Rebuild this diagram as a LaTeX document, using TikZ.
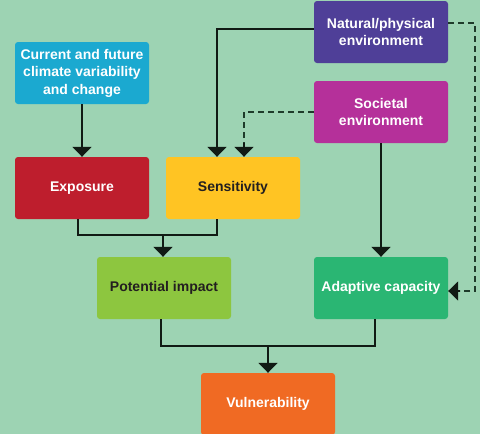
\documentclass[tikz,border=0pt]{standalone}
\usepackage{fontspec}
\setmainfont{Liberation Sans}
\usetikzlibrary{arrows.meta}
\definecolor{bg}{HTML}{9DD3B3}
\definecolor{ccyan}{HTML}{1BA9D0}
\definecolor{cred}{HTML}{BE1E2D}
\definecolor{cyellow}{HTML}{FFC423}
\definecolor{cpurple}{HTML}{4F3F98}
\definecolor{cmagenta}{HTML}{B5309A}
\definecolor{clime}{HTML}{8DC63F}
\definecolor{cgreen}{HTML}{2AB673}
\definecolor{corange}{HTML}{F06A23}
\definecolor{ctext}{HTML}{231F20}
\definecolor{cline}{HTML}{111A14}
\definecolor{cdash}{HTML}{1E3A2A}
\tikzset{
  box/.style={rectangle, rounded corners=3pt, minimum width=134pt, minimum height=62pt,
    inner sep=0pt, align=center, text=white,
    font=\fontsize{14}{17.5}\selectfont\bfseries},
  darktext/.style={text=ctext},
  conn/.style={draw=cline, line width=1.7pt},
  arr/.style={conn, -{Triangle[width=19pt,length=10pt]}},
  dconn/.style={draw=cdash, line width=1.7pt, dash pattern=on 6pt off 4pt},
}
\begin{document}
\begin{tikzpicture}[x=1pt,y=-1pt]
\useasboundingbox (0,0) rectangle (480,434);
\fill[bg] (0,0) rectangle (480,434);
\begin{scope}
\clip (0,0) rectangle (480,434);
\node[box, fill=ccyan] (clim) at (82,73) {Current and future\\climate variability\\and change};
\node[box, fill=cred] (expo) at (82,188) {Exposure};
\node[box, fill=cyellow, darktext] (sens) at (233,188) {Sensitivity};
\node[box, fill=cpurple] (nat) at (381,32) {Natural/physical\\environment};
\node[box, fill=cmagenta] (soc) at (381,112) {Societal\\environment};
\node[box, fill=clime, darktext] (pot) at (164,288) {Potential impact};
\node[box, fill=cgreen] (adap) at (381,288) {Adaptive capacity};
\node[box, fill=corange] (vul) at (268,404) {Vulnerability};
\end{scope}
\coordinate (j1) at (163,235);
\coordinate (j2) at (268,346);
% connectors
\draw[arr] (clim) -- (expo);
\draw[arr] ([yshift=3pt]nat.west) -| ([xshift=-16pt]sens.north);
\draw[dconn] (soc.west) -| ([xshift=11pt,yshift=14pt]sens.north);
\draw[arr] ([xshift=11pt,yshift=14pt]sens.north) -- ([xshift=11pt]sens.north);
\draw[dconn] ([yshift=9pt]nat.east) -- ++(27,0) |- ([xshift=12pt,yshift=-3pt]adap.east);
\draw[arr] ([xshift=12pt,yshift=-3pt]adap.east) -- ([yshift=-3pt]adap.east);
\draw[arr] (soc) -- (adap);
\draw[conn] ([xshift=-4pt]expo.south) |- (j1) -| ([xshift=-16pt]sens.south);
\draw[arr] (j1) -- (pot.north -| j1);
\draw[conn] ([xshift=-3pt]pot.south) |- (j2) -| ([xshift=-6pt]adap.south);
\draw[arr] (j2) -- (vul);
\end{tikzpicture}
\end{document}
